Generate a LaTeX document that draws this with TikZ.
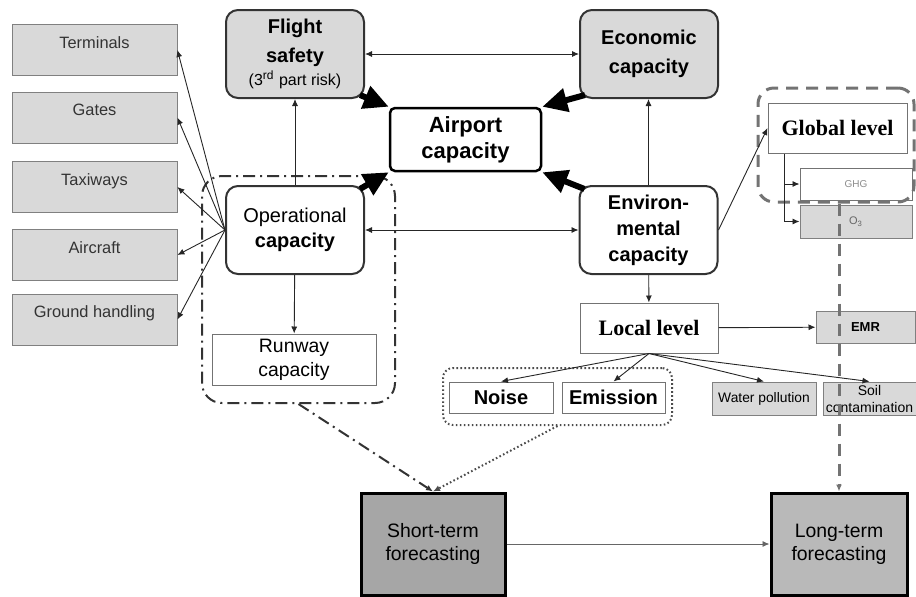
\documentclass[tikz,border=0pt]{standalone}
\usepackage{fontspec}
\setmainfont{Liberation Sans}
\newfontfamily\levelfont{Liberation Serif}
\usetikzlibrary{arrows.meta, positioning}

\begin{document}
\begin{tikzpicture}[x=0.5pt, y=-0.5pt,
    >={Latex[length=3.5pt,width=3pt]},
    sidebox/.style={draw=black!50, fill=gray!30, minimum width=82.5pt, minimum height=25.5pt, text=black!80, text depth=7.5pt, font=\fontsize{8.2}{10}\selectfont},
    capbox/.style={draw=black!80, fill=gray!30, line width=1pt, rounded corners=6pt, minimum width=69pt, minimum height=44pt, align=center, font=\bfseries\fontsize{10}{14.5}\selectfont},
    opbox/.style={draw=black!80, fill=white, line width=1pt, rounded corners=6pt, minimum width=69pt, minimum height=44pt, align=center},
    airbox/.style={draw=black, fill=white, line width=1.25pt, rounded corners=2.5pt, minimum width=75.5pt, minimum height=31.5pt, align=center, font=\bfseries\fontsize{11}{13}\selectfont},
    plainbox/.style={draw=black!55, fill=white, line width=0.5pt, inner sep=1pt},
    greybox/.style={draw=black!50, fill=gray!30, line width=0.5pt, inner sep=1pt},
    levelbox/.style={plainbox, minimum width=69pt, minimum height=25pt, font=\levelfont\bfseries\fontsize{11}{13}\selectfont},
    forecast/.style={draw=black, line width=1.5pt, minimum height=51pt, align=center, font=\fontsize{9.7}{11.6}\selectfont},
    link/.style={black!85, line width=0.45pt},
    bigarrow/.style={-{Triangle[length=12.5pt,width=11.5pt]}, line width=3pt, black},
    dashdot/.style={black!80, line width=1pt, dash pattern=on 6pt off 2.5pt on 1pt off 2.5pt},
    dotline/.style={black!70, line width=1pt, dash pattern=on 0.8pt off 1.2pt},
    grydash/.style={black!55, line width=1.5pt, dash pattern=on 6pt off 4pt}
]
    \useasboundingbox (0,0) rectangle (916,596);

    % left column
    \foreach \y/\nm/\txt in {50/term/Terminals, 117.5/gates/Gates, 187/taxi/Taxiways, 255/craft/Aircraft, 319.5/ground/Ground handling}
    {
        \node[sidebox, name=\nm] at (94.5,\y) {\txt};
    };

    \node[capbox, name=flight] at (295,54) {Flight\\safety\\[-3pt]{\mdseries\fontsize{8}{9.5}\selectfont(3\textsuperscript{rd} part risk)}};
    \node[capbox, name=econ] at (649,54) {Economic\\capacity};
    \node[airbox, name=airport] at (465.5,139.5) {Airport\\capacity};
    \node[opbox, name=oper, font=\fontsize{10}{12.5}\selectfont] at (295,230) {Operational\\\textbf{capacity}};
    \node[opbox, name=env, font=\bfseries\fontsize{10}{13}\selectfont] at (648.5,230) {Environ-\\mental\\capacity};
    \node[plainbox, name=runway, minimum width=82pt, minimum height=25.5pt, align=center, font=\fontsize{9.7}{12}\selectfont] at (294,359.5) {Runway\\capacity};

    % environmental levels
    \node[levelbox, name=local] at (649,328) {Local level};
    \node[levelbox, name=global, minimum width=69.5pt] at (837.5,128) {Global level};
    \node[plainbox, name=ghg, minimum width=56pt, minimum height=16pt, text=black!45, font=\fontsize{5}{6}\selectfont] at (856,184) {GHG};
    \node[greybox, name=othree, minimum width=56pt, minimum height=16.5pt, text=black!60, font=\fontsize{5.5}{6}\selectfont] at (856,221.5) {O\textsubscript{3}};
    \node[greybox, name=emr, minimum width=49.5pt, minimum height=16pt, font=\bfseries\fontsize{6.5}{8}\selectfont] at (865.5,327) {EMR};
    \node[plainbox, name=noise, minimum width=52pt, minimum height=15.5pt, font=\bfseries\fontsize{10}{12}\selectfont] at (501,397.5) {Noise};
    \node[plainbox, name=emission, minimum width=51.5pt, minimum height=15.5pt, font=\bfseries\fontsize{10}{12}\selectfont] at (613.5,397.5) {Emission};
    \node[greybox, name=water, minimum width=52pt, minimum height=16.5pt, font=\fontsize{6.9}{8}\selectfont] at (764,398.5) {Water pollution};
    \node[greybox, name=soil, minimum width=46.5pt, minimum height=16.5pt, align=center, font=\fontsize{7}{8.5}\selectfont] at (869.5,398.5) {Soil\\contamination};

    \node[forecast, name=short, fill=gray!70, minimum width=72pt] at (433,544) {Short-term\\forecasting};
    \node[forecast, name=long, fill=gray!55, minimum width=68pt] at (839,544) {Long-term\\forecasting};

    % groupings
    \node[dashdot, draw, rounded corners=10pt, minimum width=96.5pt, minimum height=113.5pt, name=opfr] at (298.5,289.5) {};
    \node[dotline, draw, rounded corners=5pt, minimum width=114.5pt, minimum height=28.5pt, name=nefr] at (557.5,396.5) {};
    \node[grydash, draw, rounded corners=8pt, minimum width=78pt, minimum height=57pt, name=glfr] at (836,145) {};

    % links
    \draw[link, <->] (flight) -- (econ);
    \draw[link, <->] (oper) -- (env);
    \draw[link, ->] (oper) -- (flight);
    \draw[link, ->] (env.north) -- (env.north |- econ.south);
    \draw[bigarrow] ([shift={(-5,-4)}]flight.south east) -- (airport.north west);
    \draw[bigarrow] ([shift={(6,-4)}]econ.south west) -- (airport.north east);
    \draw[bigarrow] ([shift={(-5,4)}]oper.north east) -- (airport.south west);
    \draw[bigarrow] ([shift={(6,4)}]env.north west) -- (airport.south east);
    \foreach \nm in {term,gates,taxi,craft,ground}
        \draw[link, ->] (oper.west) -- (\nm.east);
    \draw[link, ->] (oper) -- (runway);
    \draw[link, ->] (env) -- (local);
    \draw[link, ->] (env.east) -- (global.west);
    \draw[link, ->] (local) -- (emr);
    \foreach \nm in {noise,emission,water,soil}
        \draw[link, ->] (local.south) -- (\nm.north);
    \coordinate (gtap) at ([xshift=8.5pt]global.south west);
    \draw[link, ->] (gtap) |- (othree.west);
    \draw[link, ->] (gtap |- ghg.west) -- (ghg.west);

    \draw[link, black!60, ->] (short) -- (long);
    \draw[dashdot, ->] (opfr.south) -- (short.north);
    \draw[dotline, ->] (nefr.south) -- (short.north);
    \draw[grydash, ->] (long.north |- glfr.south) -- (long.north);
\end{tikzpicture}
\end{document}
